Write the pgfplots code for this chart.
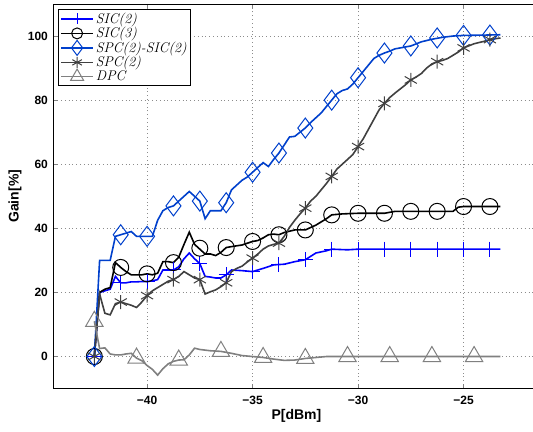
\documentclass[border=0pt]{standalone}
\usepackage{pgfplots}
\pgfplotsset{compat=1.18}
\usepackage{fontspec}
\newfontfamily\arial{Liberation Sans}
\definecolor{cSICa}{rgb}{0,0,1}
\definecolor{cSICb}{rgb}{0,0,0}
\definecolor{cSPCSIC}{rgb}{0,0.25,0.8}
\definecolor{cSPC}{rgb}{0.25,0.25,0.25}
\definecolor{cDPC}{rgb}{0.5,0.5,0.5}
\begin{document}
\begin{tikzpicture}
\begin{axis}[name=ax, scale only axis, width=486pt, height=384.5pt,
  xmin=-44.44, xmax=-21.4, ymin=-10, ymax=110,
  xtick={-40,-35,-30,-25}, xticklabels={−40,−35,−30,−25},
  ytick={0,20,40,60,80,100}, yticklabels={0,20,40,60,80,100},
  tick label style={font=\arial\bfseries\fontsize{12}{14}\selectfont},
  xticklabel style={yshift=-4.5pt},
  yticklabel style={xshift=-2pt},
  xlabel={P[dBm]}, ylabel={Gain[\%]},
  label style={font=\arial\bfseries\fontsize{14}{16}\selectfont},
  xlabel style={at={(axis description cs:0.5,0)}, anchor=center, yshift=-27.5pt},
  ylabel style={at={(axis description cs:-0.079,0.5)}, anchor=center},
  tick align=inside, major tick length=4.5pt,
  grid=major, grid style={black!45, line width=0.6pt, dash pattern=on 0.8pt off 3pt},
  axis line style={line width=0.8pt},
  legend style={at={(axis description cs:0,1)}, anchor=north west, xshift=5pt, yshift=-5pt,
    draw=black, line width=0.8pt, font=\fontsize{14}{14.5}\selectfont\itshape,
    row sep=-1.5pt, inner sep=1.5pt},
  legend image post style={line width=1.6pt},
  legend cell align=left,
  legend image code/.code={\draw[mark repeat=2,mark phase=2,#1] plot coordinates {(0pt,0pt) (16pt,0pt) (32pt,0pt)};},
]
\addlegendimage{cSICa, mark=+, mark size=5.5pt, mark options={line width=1pt}}
\addlegendentry{SIC(2)}
\addlegendimage{cSICb, mark=o, mark size=5.5pt, mark options={line width=1pt}}
\addlegendentry{SIC(3)}
\addlegendimage{cSPCSIC, mark=diamond, mark size=7.5pt, mark options={line width=1pt}}
\addlegendentry{SPC(2)-SIC(2)}
\addlegendimage{cSPC, mark=asterisk, mark size=5.5pt, mark options={line width=1pt}}
\addlegendentry{SPC(2)}
\addlegendimage{cDPC, mark=triangle, mark size=7.5pt, mark options={line width=1pt}}
\addlegendentry{DPC}

% SIC(2)
\addplot[cSICa, line width=1.6pt, forget plot] coordinates {
(-42.5,0)(-42.25,20)(-42,20.5)(-41.75,21)(-41.5,25)(-41.25,23)(-41,23)(-40.75,23.3)(-40.5,23.3)(-40.25,23.4)(-40,23.4)(-39.75,23.6)(-39.5,24)(-39.25,27)(-39,27)(-38.75,27)(-38.5,28)(-38.25,30.5)(-38,32.3)(-37.75,30.5)(-37.5,29)(-37.25,25)(-37,24.8)(-36.75,24.5)(-36.5,24.5)(-36.25,25.5)(-36,27)(-35.5,26.8)(-35,26.5)(-34.5,27.5)(-34,28.6)(-33.5,28.8)(-33,29.6)(-32.5,30.2)(-32,32.3)(-31.5,33)(-31.25,33.5)(-30.5,33.3)(-30,33.5)(-23.25,33.5)};
\addplot[cSICa, only marks, mark=+, mark size=7.5pt, mark options={line width=1pt}, forget plot] coordinates {
(-42.5,0)(-41.25,23)(-40,23.4)(-38.75,27)(-37.5,29)(-36.25,25.5)(-35,26.5)(-33.75,28.6)(-32.5,30.2)(-31.25,33.5)(-30,33.5)(-28.75,33.5)(-27.5,33.5)(-26.25,33.5)(-25,33.5)(-23.75,33.5)};

% SIC(3)
\addplot[cSICb, line width=1.6pt, forget plot] coordinates {
(-42.5,0)(-42.25,20)(-42,21)(-41.75,21.5)(-41.5,29.3)(-41.25,27.8)(-41,26.5)(-40.75,25.5)(-40.5,25.5)(-40.25,25.5)(-40,25.8)(-39.75,25.5)(-39.5,26)(-39.25,29.6)(-39,29.6)(-38.75,29.3)(-38.5,31)(-38.25,35)(-38,38.8)(-37.75,35)(-37.5,33.5)(-37.25,32)(-37,32)(-36.75,31.5)(-36.5,32.5)(-36.25,34)(-36,34.3)(-35.5,34.8)(-35,35.9)(-34.75,36.2)(-34.5,37)(-34.25,38)(-34,38.2)(-33.75,38)(-33.5,38.7)(-33,39.5)(-32.5,39.5)(-32,41)(-31.75,42)(-31.5,43)(-31.25,44.2)(-30.75,44.5)(-30,44.7)(-28.75,44.7)(-28.25,45.3)(-25.5,45.3)(-25.25,46.6)(-25,46.8)(-23.25,46.8)};
\addplot[cSICb, only marks, mark=o, mark size=8pt, mark options={line width=1pt}, forget plot] coordinates {
(-42.5,0)(-41.25,27.8)(-40,25.8)(-38.75,29.3)(-37.5,33.8)(-36.25,34)(-35,35.9)(-33.75,38)(-32.5,39.5)(-31.25,44.2)(-30,44.7)(-28.75,44.7)(-27.5,45.3)(-26.25,45.3)(-25,46.8)(-23.75,46.8)};

% SPC(2)-SIC(2)
\addplot[cSPCSIC, line width=1.6pt, forget plot] coordinates {
(-42.5,0)(-42.25,30)(-42,30)(-41.75,30)(-41.5,37.5)(-41.25,38)(-41,38.5)(-40.75,39)(-40.5,37.5)(-40.25,37.5)(-40,37.5)(-39.75,37.5)(-39.5,42.5)(-39.25,45.5)(-39,46.5)(-38.75,47)(-38.5,48.5)(-38.25,50)(-38,51.5)(-37.75,50)(-37.5,48.5)(-37.25,43)(-37,45.5)(-36.75,45.5)(-36.5,45.5)(-36.25,48)(-36,52)(-35.75,53.5)(-35.5,55)(-35.25,56)(-35,57.5)(-34.75,59)(-34.5,60.5)(-34.25,59.3)(-34,61.5)(-33.75,63.5)(-33.5,66)(-33.25,68.5)(-33,68.7)(-32.75,70)(-32.5,71.3)(-32.25,73)(-32,74.5)(-31.75,76)(-31.5,78)(-31.25,80)(-31,82)(-30.75,83)(-30.5,83.5)(-30.25,85)(-30,87)(-29.75,89)(-29.5,91)(-29.25,93)(-29,94)(-28.75,94.7)(-28.5,95.3)(-28.25,96)(-28,96.3)(-27.75,96.6)(-27.5,96.9)(-27,98.2)(-26.5,99)(-26,99.6)(-25.5,100)(-25,100.2)(-24,100.3)(-23.25,100.4)};
\addplot[cSPCSIC, only marks, mark=diamond, mark size=10pt, mark options={line width=1pt}, forget plot] coordinates {
(-42.5,0)(-41.25,38)(-40,37.5)(-38.75,47)(-37.5,48.5)(-36.25,48)(-35,57.5)(-33.75,63.5)(-32.5,71.3)(-31.25,80)(-30,87)(-28.75,94.7)(-27.5,96.9)(-26.25,99.4)(-25,100.2)(-23.75,100.3)};

% SPC(2)
\addplot[cSPC, line width=1.6pt, forget plot] coordinates {
(-42.5,0)(-42.25,19.5)(-42,13.5)(-41.75,13)(-41.5,16.5)(-41.25,17)(-41,16.5)(-40.75,16)(-40.5,15.3)(-40.25,17)(-40,19)(-39.75,20.5)(-39.5,21.5)(-39.25,22.5)(-39,23.5)(-38.75,24)(-38.5,25)(-38.25,26.5)(-38,25.5)(-37.75,24.5)(-37.5,24)(-37.25,19.5)(-37,20.2)(-36.75,20.8)(-36.5,21.8)(-36.25,23)(-36,26.5)(-35.75,27.5)(-35.5,28.2)(-35.25,29.5)(-35,30.7)(-34.75,32)(-34.5,33.5)(-34.25,34.5)(-34,35)(-33.75,35.4)(-33.5,37.5)(-33.25,40.3)(-33,42.5)(-32.75,44.5)(-32.5,46.3)(-32.25,48.5)(-32,50)(-31.75,52)(-31.5,54)(-31.25,56.2)(-31,58.5)(-30.75,60)(-30.5,61.5)(-30.25,63)(-30,65.5)(-29.75,68)(-29.5,71)(-29.25,74)(-29,77)(-28.75,79)(-28.5,80.8)(-28.25,82.2)(-28,83.5)(-27.75,84.8)(-27.5,86.3)(-27.25,87.2)(-27,88.3)(-26.75,90)(-26.5,91.3)(-26.25,92)(-26,92.4)(-25.75,93)(-25.5,94)(-25.25,95)(-25,96.3)(-24.5,97.6)(-24,98.4)(-23.75,98.9)(-23.25,99.4)};
\addplot[cSPC, only marks, mark=asterisk, mark size=7pt, mark options={line width=1pt}, forget plot] coordinates {
(-42.5,0)(-41.25,17)(-40,19)(-38.75,24)(-37.5,24)(-36.25,23)(-35,30.7)(-33.75,35.4)(-32.5,46.3)(-31.25,56.2)(-30,65.5)(-28.75,79)(-27.5,86.3)(-26.25,92)(-25,96.3)(-23.75,98.9)};

% DPC
\addplot[cDPC, line width=1.6pt, forget plot] coordinates {
(-42.5,11)(-42.25,2.5)(-42,2.7)(-41.75,0.8)(-41.5,0.5)(-41.25,0.5)(-41,0.8)(-40.75,1)(-40.5,-0.5)(-40.25,-1.3)(-40,-2.8)(-39.75,-4)(-39.5,-5.8)(-39.25,-3.8)(-39,-2.3)(-38.75,-1.5)(-38.5,-1.1)(-38.25,-1)(-38,0.5)(-37.75,2.6)(-37.5,2.2)(-37.25,2)(-37,1.8)(-36.5,1.6)(-36,1)(-35.5,0.3)(-35,0)(-34.5,-0.3)(-34,-0.8)(-33.5,-1.2)(-33,-1.1)(-32.5,-0.6)(-32,-0.3)(-31.5,0)(-23.25,0)};
\addplot[cDPC, only marks, mark=triangle, mark size=10pt, mark options={line width=1pt}, forget plot] coordinates {
(-42.5,11)(-40.5,-0.5)(-38.5,-1.1)(-36.5,1.6)(-34.5,-0.3)(-32.5,-0.6)(-30.5,0)(-28.5,0)(-26.5,0)(-24.5,0)};
\end{axis}
\pgfresetboundingbox
\useasboundingbox ([xshift=-53.4pt,yshift=-42.5pt]ax.south west) rectangle ([xshift=-6.5pt,yshift=4pt]ax.north east);
\end{tikzpicture}
\end{document}
